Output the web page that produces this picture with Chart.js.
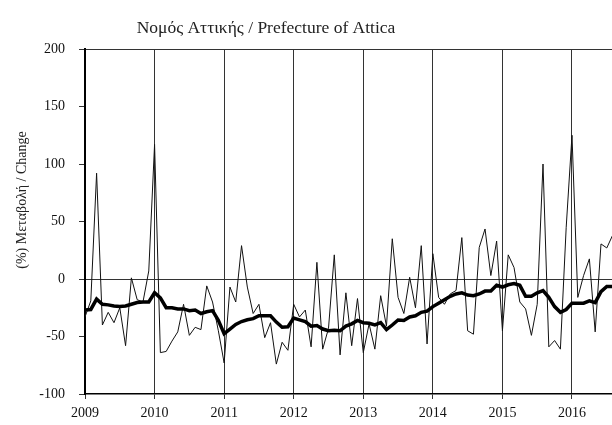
<!DOCTYPE html>
<html>
<head>
<meta charset="utf-8">
<script src="https://cdn.jsdelivr.net/npm/chart.js@4.4.1/dist/chart.umd.min.js"></script>
<style>
html,body{margin:0;padding:0;background:#fff;overflow:hidden;}
#wrap{width:612px;height:425px;position:relative;}
</style>
</head>
<body>
<div id="wrap"><canvas id="c" width="612" height="425"></canvas></div>
<script>
// ---- data (monthly, starting January 2009) ----
const startYear = 2009;
const yearTicks = [2009, 2010, 2011, 2012, 2013, 2014, 2015, 2016];
const monthlyChange = [
  -33, -19, 92, -40, -29, -38, -25, -58, 1, -18, -20, 7,
  117, -64, -63, -54, -46, -22, -49, -42, -44, -6, -20, -45,
  -73, -7, -20, 29, -7, -30, -22, -51, -38, -74, -55, -62,
  -22, -33, -27, -59, 14.5, -61, -43, 21, -66, -12, -58, -17,
  -64, -39, -61, -14.5, -41, 35, -16, -30, 1.5, -25, 29, -56.5,
  22, -16, -22, -13, -10, 36, -45, -48, 27.5, 43.5, 3, 33,
  -45, 21, 10, -20, -26, -49, -22, 100, -59, -53.5, -61, 45,
  125, -16, 3, 17.5, -46, 30.5, 27, 38
];
const movingAverage = [
  -27, -26.5, -17.5, -22, -22.5, -23.5, -24, -23.5, -22, -20.5, -20, -20,
  -12, -16.5, -25, -25, -26, -26, -27.5, -27, -30, -28.5, -27.5, -36,
  -47.5, -43.5, -39.5, -37, -35.5, -34.5, -32, -32, -32, -37.5, -42, -41.5,
  -34, -35.5, -37, -41, -40.5, -43.5, -45, -44.5, -45, -41, -39, -36,
  -38, -38.5, -40, -38, -44, -40, -35.6, -36, -33, -32, -29, -28,
  -24, -21, -18, -15, -13, -12, -14, -14.5, -13, -10.5, -10.5, -5.5,
  -7, -5, -4, -5.5, -15, -15, -12, -10, -16, -24, -29, -26.5,
  -21, -21, -21, -19, -20.5, -11, -6.5, -6.5
];
const titleText = 'Νομός Αττικής / Prefecture of Attica';
const yTitleText = '(%) Μεταβολή / Change';

const toPoints = arr => arr.map((v, i) => ({x: startYear + i / 12, y: v}));

const FONT = "'Liberation Serif', 'DejaVu Serif', serif";

const textPlugin = {
  id: 'texts',
  afterDraw(chart) {
    const ctx = chart.ctx;
    const a = chart.chartArea;
    ctx.save();
    ctx.fillStyle = '#222';
    ctx.font = "17.5px " + FONT;
    ctx.textAlign = 'center';
    ctx.textBaseline = 'middle';
    ctx.fillText(titleText, a.left + 181, 28);
    ctx.translate(22, a.top + 151);
    ctx.rotate(-Math.PI / 2);
    ctx.font = "14px " + FONT;
    ctx.fillText(yTitleText, 0, 0);
    ctx.restore();
  }
};

new Chart(document.getElementById('c'), {
  type: 'line',
  data: {
    datasets: [
      {
        data: toPoints(movingAverage),
        borderColor: '#000',
        borderWidth: 3.5,
        pointRadius: 0,
        tension: 0,
        fill: false
      },
      {
        data: toPoints(monthlyChange),
        borderColor: '#111',
        borderWidth: 1,
        pointRadius: 0,
        tension: 0,
        fill: false
      }
    ]
  },
  options: {
    responsive: false,
    animation: false,
    devicePixelRatio: 1,
    layout: {padding: {top: 49, right: 0, left: 0, bottom: 0}},
    plugins: {legend: {display: false}, tooltip: {enabled: false}, title: {display: false}},
    scales: {
      x: {
        type: 'linear',
        min: 2009,
        max: 2016.575,
        afterFit(s) { s.height = 31; },
        afterBuildTicks(s) { s.ticks = yearTicks.map(v => ({value: v})); },
        ticks: {
          includeBounds: false,
          stepSize: 1,
          padding: 6,
          color: '#111',
          font: {family: FONT, size: 14},
          callback: v => String(v),
          maxRotation: 0
        },
        grid: {color: '#333', lineWidth: 1, tickLength: 5, tickColor: '#333'},
        border: {color: '#000', width: 1.5}
      },
      y: {
        min: -100,
        max: 200,
        afterFit(s) { s.width = 85; },
        ticks: {
          stepSize: 50,
          padding: 14,
          color: '#111',
          font: {family: FONT, size: 14}
        },
        grid: {
          color: c => (c.tick && (c.tick.value === 0 || c.tick.value === 200)) ? '#333' : 'rgba(0,0,0,0)',
          lineWidth: 1,
          tickLength: 6,
          tickColor: '#333'
        },
        border: {color: '#000', width: 2}
      }
    }
  },
  plugins: [textPlugin]
});
</script>
</body>
</html>
